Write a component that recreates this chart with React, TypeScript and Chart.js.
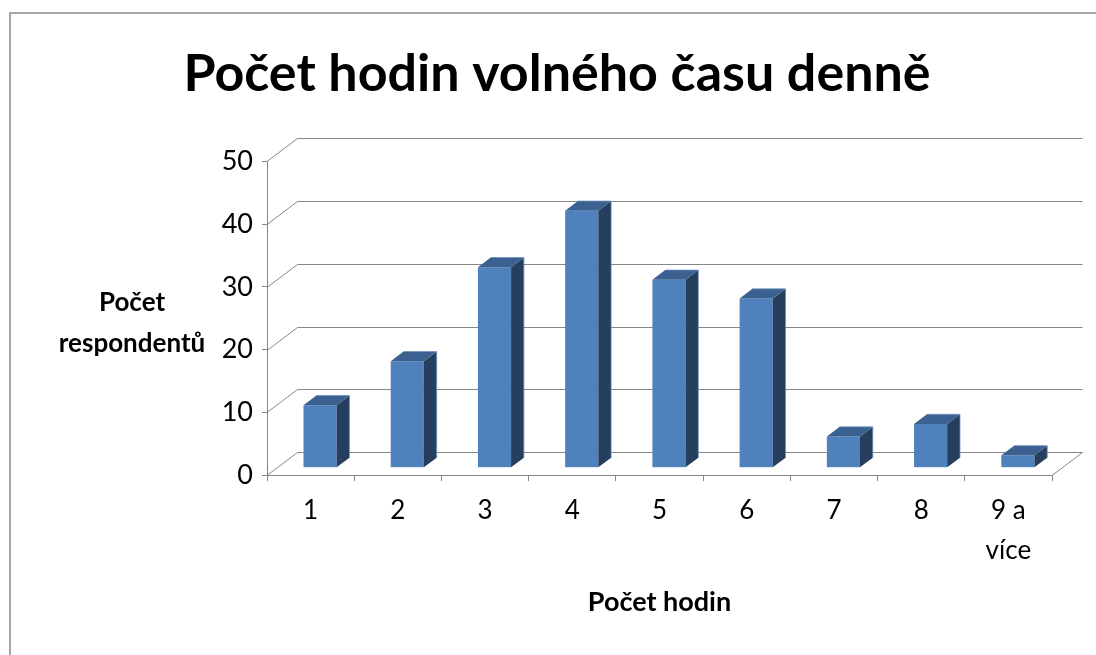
import React, { useEffect, useRef } from "react";
import { Chart, registerables } from "chart.js";

Chart.register(...registerables);

const titleText = "Počet hodin volného času denně";
const xAxisTitle = "Počet hodin";
const yAxisTitleLines = ["Počet", "respondentů"];
const categories: (string | string[])[] = ["1", "2", "3", "4", "5", "6", "7", "8", ["9 a", "více"]];
const respondents = [10, 17, 32, 41, 30, 27, 5, 7, 2];
const yMin = 0;
const yMax = 50;
const yStep = 10;

const FONT = "Lato, 'Open Sans', sans-serif";
const GRID = "#868686";
const DEPTH = { x: 30.5, y: -23 };
const BAR_F0 = 0.31;
const BAR_F1 = 0.73;

const threeD = {
  id: "threeD",
  beforeDatasetsDraw(chart: any) {
    const { ctx, chartArea } = chart;
    const ys = chart.scales.y;
    ctx.save();
    ctx.strokeStyle = GRID;
    ctx.lineWidth = 1;
    ys.ticks.forEach((t: any) => {
      const py = Math.round(ys.getPixelForValue(t.value)) + 0.5;
      ctx.beginPath();
      ctx.moveTo(chartArea.left, py);
      ctx.lineTo(chartArea.left + DEPTH.x, py + DEPTH.y);
      ctx.lineTo(chartArea.right + DEPTH.x, py + DEPTH.y);
      ctx.stroke();
    });
    const p0 = Math.round(ys.getPixelForValue(0)) + 0.5;
    ctx.beginPath();
    ctx.moveTo(chartArea.right, p0);
    ctx.lineTo(chartArea.right + DEPTH.x, p0 + DEPTH.y);
    ctx.stroke();
    ctx.restore();
    ctx.save();
    ctx.translate(DEPTH.x * BAR_F0, DEPTH.y * BAR_F0);
  },
  afterDatasetsDraw(chart: any) {
    const { ctx } = chart;
    const ddx = DEPTH.x * (BAR_F1 - BAR_F0);
    const ddy = DEPTH.y * (BAR_F1 - BAR_F0);
    const meta = chart.getDatasetMeta(0);
    meta.data.forEach((bar: any) => {
      const p = bar.getProps(["x", "y", "base", "width"], true);
      const l = p.x - p.width / 2;
      const r = p.x + p.width / 2;
      ctx.fillStyle = "#263f5e";
      ctx.beginPath();
      ctx.moveTo(r, p.y);
      ctx.lineTo(r + ddx, p.y + ddy);
      ctx.lineTo(r + ddx, p.base + ddy);
      ctx.lineTo(r, p.base);
      ctx.closePath();
      ctx.fill();
      ctx.fillStyle = "#3b6190";
      ctx.strokeStyle = "#6f93c2";
      ctx.lineWidth = 0.8;
      ctx.beginPath();
      ctx.moveTo(l, p.y);
      ctx.lineTo(l + ddx, p.y + ddy);
      ctx.lineTo(r + ddx, p.y + ddy);
      ctx.lineTo(r, p.y);
      ctx.closePath();
      ctx.fill();
      ctx.beginPath();
      ctx.moveTo(l + ddx, p.y + ddy);
      ctx.lineTo(r + ddx, p.y + ddy);
      ctx.lineTo(r + ddx, p.base + ddy);
      ctx.stroke();
    });
    ctx.restore();
  },
  afterDraw(chart: any) {
    const { ctx, chartArea } = chart;
    ctx.save();
    ctx.fillStyle = "#000";
    ctx.font = `bold 26px ${FONT}`;
    ctx.textAlign = "center";
    ctx.textBaseline = "middle";
    const mid = (chartArea.top + chartArea.bottom) / 2;
    const cx = chartArea.left - 135;
    ctx.fillText(yAxisTitleLines[0], cx, mid - 16);
    ctx.fillText(yAxisTitleLines[1], cx, mid + 25);
    ctx.restore();
  },
};

export default function App() {
  const ref = useRef<HTMLCanvasElement>(null);
  useEffect(() => {
    const chart = new Chart(ref.current!, {
      type: "bar",
      data: {
        labels: categories as any,
        datasets: [
          {
            data: respondents,
            backgroundColor: "#4f81bd",
            borderWidth: 0,
            categoryPercentage: 1,
            barPercentage: 0.38,
          },
        ],
      },
      plugins: [threeD],
      options: {
        responsive: false,
        animation: false,
        devicePixelRatio: 1,
        layout: { padding: { left: 62, right: 44, top: 20, bottom: 20 } },
        plugins: {
          legend: { display: false },
          tooltip: { enabled: false },
          title: {
            display: true,
            text: titleText,
            color: "#000",
            font: { family: FONT, size: 52, weight: "bold", lineHeight: 1.2 },
            padding: { top: 23, bottom: 56 },
          },
        },
        scales: {
          x: {
            offset: true,
            grid: { drawOnChartArea: false, color: GRID, tickLength: 6, offset: true },
            border: { color: GRID },
            ticks: {
              color: "#000",
              font: { family: FONT, size: 26, lineHeight: 1.54 },
              padding: 10,
              maxRotation: 0,
              autoSkip: false,
            },
            title: {
              display: true,
              text: xAxisTitle,
              color: "#000",
              font: { family: FONT, size: 27, weight: "bold" },
              padding: { top: 0, bottom: 17 },
            },
            afterFit: (s: any) => {
              s.height = 160;
            },
          },
          y: {
            min: yMin,
            max: yMax,
            grid: { drawOnChartArea: false, color: GRID, tickLength: 5 },
            border: { color: GRID },
            ticks: {
              stepSize: yStep,
              color: "#000",
              font: { family: FONT, size: 27 },
              padding: 9,
            },
            afterFit: (s: any) => {
              s.width = 205;
            },
          },
        },
      },
    });
    return () => chart.destroy();
  }, []);
  return (
    <div style={{ position: "fixed", left: 0, top: 0, width: 1096, height: 655, background: "#fff" }}>
      <div
        style={{
          position: "absolute",
          left: 9,
          top: 12,
          right: -10,
          bottom: -10,
          borderTop: "2px solid #a6a6a6",
          borderLeft: "2px solid #a6a6a6",
        }}
      />
      <canvas ref={ref} width={1096} height={655} style={{ position: "absolute", left: 0, top: 0 }} />
    </div>
  );
}
